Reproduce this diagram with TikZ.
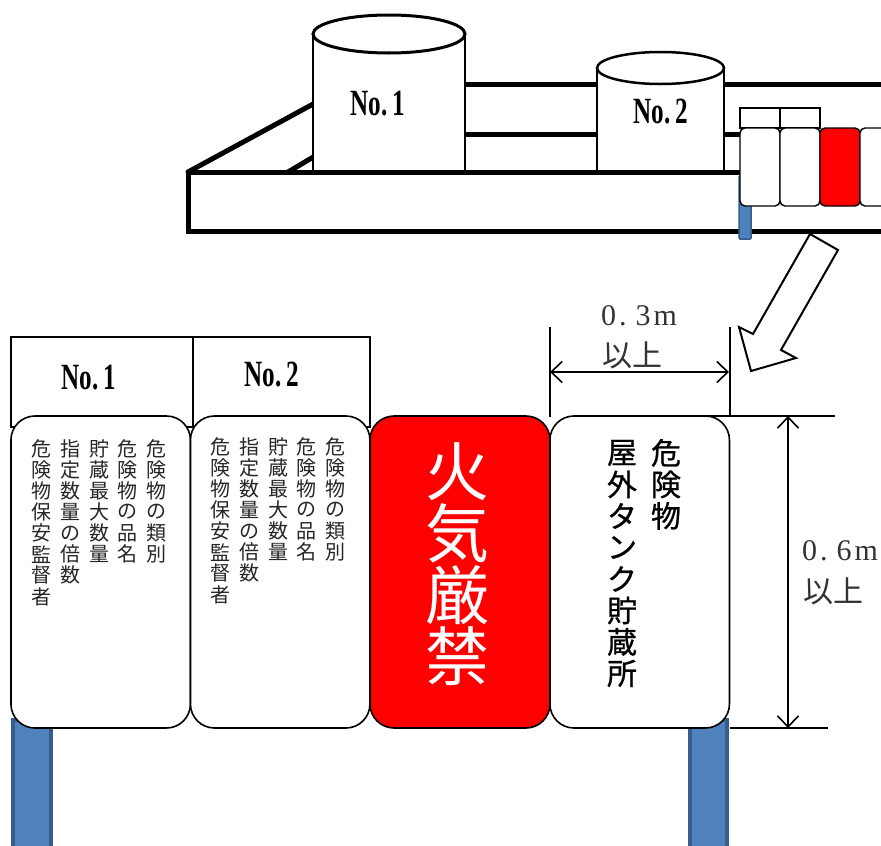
\documentclass[tikz,border=0pt]{standalone}
\usepackage{fontspec}
\usepackage{graphicx}
\usetikzlibrary{arrows.meta}
\setmainfont{Liberation Serif}
\newfontfamily\jpfont{Noto Sans CJK JP}
\newfontfamily\jpheavy[FakeBold=0.8]{Noto Sans CJK JP}
\definecolor{postblue}{HTML}{4F81BD}
\definecolor{postedge}{HTML}{385D8A}
\makeatletter
\newcommand{\tatestack}[2]{\vbox{\offinterlineskip\@tfor\tatechar:=#2\do{\hbox to 1em{\hss\vbox to #1{\vss\hbox{\tatechar}\vss}\hss}}}}
\makeatother
\newcommand{\tanklabel}[1]{\scalebox{.68}[1]{\bfseries No.\hspace{8pt}#1}}
\newcommand{\dimvalue}[1]{0\hspace{3pt}.\hspace{9pt}#1\hspace{3pt}m}
\tikzset{
  heavy/.style={line width=5pt,line cap=round},
  tankwall/.style={draw=black,fill=white,line width=2.5pt},
  post/.style={draw=postedge,fill=postblue},
  board/.style={draw=black,fill=white,line width=1.6pt,rounded corners=24pt,minimum height=312pt,inner sep=0pt},
  miniboard/.style={draw=black,fill=white,line width=1.4pt,rounded corners=5pt,minimum width=40pt,minimum height=78pt,inner sep=0pt},
  headbox/.style={draw=black,fill=white,line width=1.4pt,inner sep=0pt},
  tanktext/.style={inner sep=0pt,font=\fontsize{37}{37}\selectfont},
  smalltate/.style={inner sep=0pt,anchor=north,text=black!85,font=\jpfont\fontsize{20}{21}\selectfont},
  bigtate/.style={inner sep=0pt,anchor=north,font=\jpheavy\fontsize{30}{31}\selectfont},
  dimtext/.style={inner sep=0pt,text=black!80,font=\fontsize{30}{30}\selectfont},
  dimjp/.style={inner sep=0pt,text=black!80,font=\jpfont\fontsize{30}{30}\selectfont},
  dimarrow/.style={line width=1.6pt,{Straight Barb[length=11pt,width=21pt]}-{Straight Barb[length=11pt,width=21pt]}},
}
\begin{document}
\begin{tikzpicture}[x=1pt,y=-1pt]
  \useasboundingbox (0,0) rectangle (881,846);
  % plan of the tank yard
  \draw[heavy] (340,84.5) -- (881,84.5);
  \draw[heavy] (465,134) -- (745,134);
  \draw[heavy] (188,172) -- (315,103);
  \draw[heavy] (288,172) -- (315,156);
  \draw[tankwall] (313,34) -- (313,172) -- (465,172) -- (465,34);
  \draw[draw=black,fill=white,line width=3pt] (389,34) ellipse [x radius=76,y radius=19];
  \draw[tankwall] (597,68) -- (597,172) -- (724,172) -- (724,68);
  \draw[draw=black,fill=white,line width=2.5pt] (660.5,68) ellipse [x radius=63.5,y radius=16];
  \node[tanktext] (tankA) at (378,104) {\tanklabel{1}};
  \node[tanktext] (tankB) at (661,112) {\tanklabel{2}};
  \draw[heavy] (881,231) -- (188,231) -- (188,172) -- (745,172);
  \draw[post,line width=1.5pt,rounded corners=1pt] (739,176) rectangle (751,239);
  % small sign
  \node[headbox,minimum width=40pt,minimum height=20pt] (miniheadA) at (760,118) {};
  \node[headbox,minimum width=40pt,minimum height=20pt] (miniheadB) at (800,118) {};
  \node[miniboard] (miniA) at (760,167) {};
  \node[miniboard] (miniB) at (800,167) {};
  \node[miniboard,fill=red] (miniC) at (840,167) {};
  \draw[draw=black,fill=white,line width=1.4pt,rounded corners=5pt] (881,128) -- (860,128) -- (860,206) -- (881,206);
  % pointer
  \draw[draw=black,fill=white,line width=2pt,line join=miter] (810,234) -- (838,250) -- (781,350) -- (796,358) -- (751,371) -- (739,327) -- (753,334) -- cycle;
  % posts
  \draw[post,line width=4pt] (13,720) rectangle (51,850);
  \draw[post,line width=4pt] (690,720) rectangle (727,850);
  % large sign
  \node[headbox,minimum width=182pt,minimum height=90pt] (headA) at (102,382) {};
  \node[headbox,minimum width=177pt,minimum height=90pt] (headB) at (281.5,382) {};
  \node[tanktext] (labelA) at (89,378) {\tanklabel{1}};
  \node[tanktext] (labelB) at (272,375) {\tanklabel{2}};
  \node[board,minimum width=179.5pt] (boardA) at (100.7,572) {};
  \node[board,minimum width=179.5pt] (boardB) at (280.2,572) {};
  \node[board,minimum width=180pt,fill=red] (boardC) at (460,572) {};
  \node[board,minimum width=179.5pt] (boardD) at (639.7,572) {};
  \node[smalltate] (colA) at (156,438) {\tatestack{21.1pt}{危険物の類別}};
  \node[smalltate] (colB) at (127,438) {\tatestack{21.1pt}{危険物の品名}};
  \node[smalltate] (colC) at (99,438) {\tatestack{21.1pt}{貯蔵最大数量}};
  \node[smalltate] (colD) at (70,438) {\tatestack{21.1pt}{指定数量の倍数}};
  \node[smalltate] (colE) at (41,438) {\tatestack{21.1pt}{危険物保安監督者}};
  \node[smalltate] (colF) at (335,436) {\tatestack{21.1pt}{危険物の類別}};
  \node[smalltate] (colG) at (306,436) {\tatestack{21.1pt}{危険物の品名}};
  \node[smalltate] (colH) at (278,436) {\tatestack{21.1pt}{貯蔵最大数量}};
  \node[smalltate] (colI) at (249,436) {\tatestack{21.1pt}{指定数量の倍数}};
  \node[smalltate] (colJ) at (220,436) {\tatestack{21.1pt}{危険物保安監督者}};
  \node[inner sep=0pt,anchor=north,text=white,font=\jpfont\fontsize{64}{64}\selectfont] (warn) at (457,441) {\tatestack{61.5pt}{火気厳禁}};
  \node[bigtate] (kindA) at (666,437) {\tatestack{31.5pt}{危険物}};
  \node[bigtate] (kindB) at (622,437) {\tatestack{31.5pt}{屋外タンク貯蔵所}};
  % dimensions
  \coordinate (wa) at (550,327);
  \coordinate (wb) at (730,327);
  \coordinate (wc) at (550,417);
  \coordinate (wd) at (730,417);
  \coordinate (we) at (550,372);
  \coordinate (wf) at (729,372);
  \coordinate (ha) at (703,416);
  \coordinate (hb) at (835,416);
  \coordinate (hc) at (730,728);
  \coordinate (hd) at (828,728);
  \coordinate (he) at (788,416);
  \coordinate (hf) at (788,728);
  \draw[line width=1.4pt] (wa) -- (wc);
  \draw[line width=1.4pt] (wb) -- (wd);
  \draw[dimarrow] (we) -- (wf);
  \draw[line width=2.4pt] (ha) -- (hb);
  \draw[line width=2.4pt] (hc) -- (hd);
  \draw[dimarrow] (he) -- (hf);
  \node[dimtext] (widthval) at (639,316) {\dimvalue{3}};
  \node[dimjp] (widthmin) at (632,355) {以上};
  \node[dimtext] (heightval) at (840,551) {\dimvalue{6}};
  \node[dimjp] (heightmin) at (833,591) {以上};
\end{tikzpicture}
\end{document}
